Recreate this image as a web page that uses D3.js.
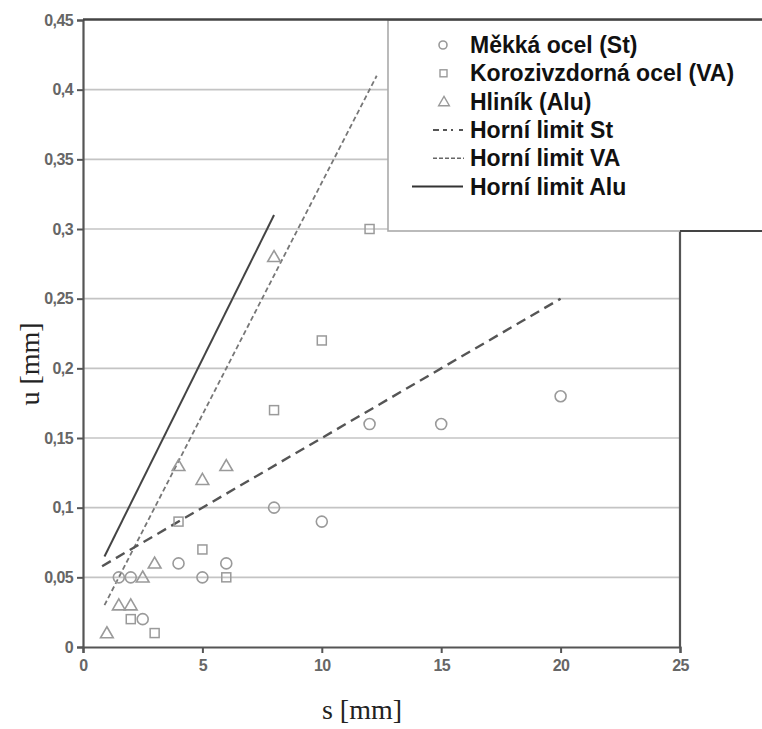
<!DOCTYPE html>
<html>
<head>
<meta charset="utf-8">
<script src="https://cdn.jsdelivr.net/npm/d3@7"></script>
<style>
  body { margin: 0; background: #fff; }
  svg { display: block; }
</style>
</head>
<body>
<script>
// data
const stS = [1.5, 2, 2.5, 4, 5, 6, 8, 10, 12, 15, 20]
const stU = [0.05, 0.05, 0.02, 0.06, 0.05, 0.06, 0.1, 0.09, 0.16, 0.16, 0.18]
const vaS = [2, 3, 4, 5, 6, 8, 10, 12]
const vaU = [0.02, 0.01, 0.09, 0.07, 0.05, 0.17, 0.22, 0.3]
const aluS = [1, 1.5, 2, 2.5, 3, 4, 5, 6, 8]
const aluU = [0.01, 0.03, 0.03, 0.05, 0.06, 0.13, 0.12, 0.13, 0.28]
const limitSt = [[0.8, 0.058], [20, 0.25]]
const limitVA = [[0.9, 0.03], [12.3, 0.41]]
const limitAlu = [[0.9, 0.065], [8, 0.31]]
const xTicks = [0, 5, 10, 15, 20, 25]
const yTicks = [0, 0.05, 0.1, 0.15, 0.2, 0.25, 0.3, 0.35, 0.4, 0.45]
const legendLabels = ['Měkká ocel (St)', 'Korozivzdorná ocel (VA)', 'Hliník (Alu)', 'Horní limit St', 'Horní limit VA', 'Horní limit Alu']

const W = 762, H = 729
const x = d3.scaleLinear().domain([0, 25]).range([83, 680])
const y = d3.scaleLinear().domain([0, 0.45]).range([647, 20])
const fmt = d => String(d).replace('.', ',')
const markGray = '#9a9a9a'

let mainSVG

function createSVG() {
  mainSVG = d3.select('body').append('svg').attr('width', W).attr('height', H)
}

function createGrid() {
  mainSVG.append('g').selectAll('line')
    .data(yTicks.filter(d => d > 0 && d < 0.45))
    .join('line')
    .attr('x1', x(0)).attr('x2', x(25))
    .attr('y1', d => y(d)).attr('y2', d => y(d))
    .attr('stroke', '#c4c4c4').attr('stroke-width', 1.6)
}

function createAxes() {
  const xAxis = mainSVG.append('g')
    .attr('transform', `translate(0,${y(0)})`)
    .call(d3.axisBottom(x).tickValues(xTicks).tickSize(6).tickPadding(7).tickFormat(fmt))
  const yAxis = mainSVG.append('g')
    .attr('transform', `translate(${x(0)},0)`)
    .call(d3.axisLeft(y).tickValues(yTicks).tickSize(6).tickPadding(4).tickFormat(fmt))
  ;[xAxis, yAxis].forEach(g => {
    g.attr('font-size', 16)
    g.select('.domain').attr('stroke', '#555').attr('stroke-width', 2.2)
    g.selectAll('.tick line').attr('stroke', '#555').attr('stroke-width', 2)
    g.selectAll('.tick text')
      .attr('fill', '#666')
      .style('font-family', 'Liberation Sans, Arial, sans-serif')
      .style('font-size', '16px')
      .style('font-weight', 'bold')
      .style('letter-spacing', '-0.6px')
  })
  // right frame
  mainSVG.append('line')
    .attr('x1', x(25)).attr('x2', x(25)).attr('y1', 231).attr('y2', y(0))
    .attr('stroke', '#555').attr('stroke-width', 2.2)
}

function createLimits() {
  const line = d3.line().x(d => x(d[0])).y(d => y(d[1]))
  mainSVG.append('path').attr('d', line(limitAlu))
    .attr('fill', 'none').attr('stroke', '#444').attr('stroke-width', 2)
  mainSVG.append('path').attr('d', line(limitVA))
    .attr('fill', 'none').attr('stroke', '#777').attr('stroke-width', 1.8)
    .attr('stroke-dasharray', '5,3')
  mainSVG.append('path').attr('d', line(limitSt))
    .attr('fill', 'none').attr('stroke', '#555').attr('stroke-width', 2.4)
    .attr('stroke-dasharray', '10,6')
}

function drawCircle(g, cx, cy, r) {
  g.append('circle').attr('cx', cx).attr('cy', cy).attr('r', r || 5.5)
    .attr('fill', 'none').attr('stroke', markGray).attr('stroke-width', 1.6)
}
function drawSquare(g, cx, cy) {
  g.append('rect').attr('x', cx - 4.5).attr('y', cy - 4.5).attr('width', 9).attr('height', 9)
    .attr('fill', 'none').attr('stroke', markGray).attr('stroke-width', 1.5)
}
function drawTriangle(g, cx, cy) {
  g.append('path').attr('d', d3.symbol(d3.symbolTriangle, 70)()).attr('transform', `translate(${cx},${cy + 1})`)
    .attr('fill', 'none').attr('stroke', markGray).attr('stroke-width', 1.6)
}

function createPoints() {
  const g = mainSVG.append('g')
  stS.forEach((s, i) => drawCircle(g, x(s), y(stU[i])))
  vaS.forEach((s, i) => drawSquare(g, x(s), y(vaU[i])))
  aluS.forEach((s, i) => drawTriangle(g, x(s), y(aluU[i])))
}

function createLegend() {
  const g = mainSVG.append('g')
  g.append('rect').attr('x', 388).attr('y', 20).attr('width', W - 388 + 5).attr('height', 211)
    .attr('fill', '#fff').attr('stroke', '#aaa').attr('stroke-width', 1.6)
  // dark frame bits over the legend box
  g.append('line').attr('x1', x(0)).attr('x2', W).attr('y1', 19.5).attr('y2', 19.5)
    .attr('stroke', '#444').attr('stroke-width', 2.4)
  g.append('line').attr('x1', x(25)).attr('x2', W).attr('y1', 231).attr('y2', 231)
    .attr('stroke', '#444').attr('stroke-width', 2)

  const rowY = i => 45 + i * 28.3
  drawCircle(g, 443, rowY(0), 4)
  g.append('rect').attr('x', 440).attr('y', rowY(1) - 3.5).attr('width', 7).attr('height', 7)
    .attr('fill', 'none').attr('stroke', markGray).attr('stroke-width', 1.4)
  g.append('path').attr('d', d3.symbol(d3.symbolTriangle, 50)()).attr('transform', `translate(444,${rowY(2) + 1})`)
    .attr('fill', 'none').attr('stroke', markGray).attr('stroke-width', 1.4)
  g.append('line').attr('x1', 433).attr('x2', 464).attr('y1', rowY(3)).attr('y2', rowY(3))
    .attr('stroke', '#555').attr('stroke-width', 2).attr('stroke-dasharray', '6,4,4,4,2')
  g.append('line').attr('x1', 433).attr('x2', 464).attr('y1', rowY(4)).attr('y2', rowY(4))
    .attr('stroke', '#666').attr('stroke-width', 1.6).attr('stroke-dasharray', '4,2')
  g.append('line').attr('x1', 412).attr('x2', 463).attr('y1', rowY(5)).attr('y2', rowY(5))
    .attr('stroke', '#333').attr('stroke-width', 2)

  g.selectAll('text').data(legendLabels).join('text')
    .attr('x', 470).attr('y', (d, i) => rowY(i) + 8)
    .text(d => d)
    .attr('fill', '#111')
    .style('font-family', 'Liberation Sans, Arial, sans-serif')
    .style('font-size', '23px')
    .style('font-weight', 'bold')
}

function createTitles() {
  mainSVG.append('text')
    .attr('transform', `translate(39,364) rotate(-90)`)
    .attr('text-anchor', 'middle')
    .text('u [mm]')
    .attr('fill', '#222')
    .style('font-family', 'Liberation Serif, Times New Roman, serif')
    .style('font-size', '28px')
  mainSVG.append('text')
    .attr('x', 362).attr('y', 719)
    .attr('text-anchor', 'middle')
    .text('s [mm]')
    .attr('fill', '#222')
    .style('font-family', 'Liberation Serif, Times New Roman, serif')
    .style('font-size', '28px')
}

createSVG()
createGrid()
createAxes()
createLimits()
createPoints()
createLegend()
createTitles()
</script>
</body>
</html>
